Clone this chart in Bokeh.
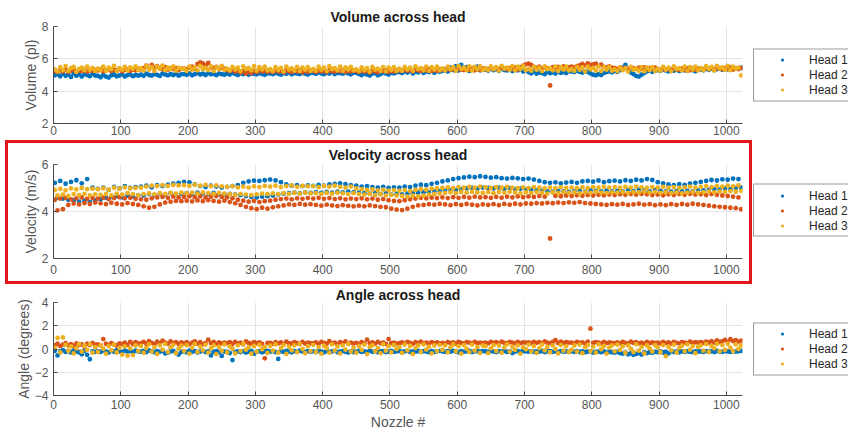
from bokeh.plotting import figure
from bokeh.models import Legend, LegendItem, Range1d, Div
from bokeh.layouts import row, column
from bokeh.embed import file_html
from bokeh.resources import INLINE

# ---------------- data ----------------
nozzles = list(range(2, 1024, 4))          # sampled nozzle numbers
x_ticks = [0, 100, 200, 300, 400, 500, 600, 700, 800, 900, 1000]
heads = ["Head 1", "Head 2", "Head 3"]
volume_ticks = [2, 4, 6, 8]
velocity_ticks = [2, 4, 6]
angle_ticks = [-4, -2, 0, 2, 4]

volume_head1 = [
    4.98, 5.05, 4.92, 5.08, 4.95, 5.02, 4.88, 5.10, 4.96, 5.04, 4.90, 5.06, 4.99, 4.93, 5.07, 4.97,
    4.94, 4.86, 5.01, 4.90, 4.84, 4.98, 5.03, 4.92, 4.97, 5.05, 4.91, 4.99, 5.04, 4.93, 5.00, 4.96,
    5.02, 4.95, 5.08, 5.00, 4.97, 5.06, 5.01, 4.94, 5.09, 5.03, 4.98, 5.05, 5.00, 5.07, 4.96, 5.04,
    5.06, 5.01, 5.10, 4.98, 5.05, 5.12, 5.03, 5.08, 5.00, 5.11, 5.04, 5.07, 4.99, 5.09, 5.05, 5.02,
    5.08, 5.03, 5.12, 5.06, 5.00, 5.10, 5.05, 5.13, 5.02, 5.09, 5.07, 5.04, 5.11, 5.06, 5.01, 5.10,
    5.10, 5.05, 5.13, 5.08, 5.02, 5.12, 5.07, 5.15, 5.04, 5.11, 5.09, 5.06, 5.14, 5.08, 5.03, 5.12,
    5.12, 5.07, 5.16, 5.10, 5.05, 5.14, 5.09, 5.18, 5.06, 5.13, 5.11, 5.08, 5.16, 5.10, 5.04, 5.14,
    5.13, 5.06, 4.99, 5.10, 5.02, 4.97, 5.08, 5.12, 4.98, 5.05, 5.15, 5.09, 5.03, 5.14, 5.10, 5.17,
    5.18, 5.12, 5.22, 5.15, 5.25, 5.10, 5.20, 5.16, 5.27, 5.13, 5.22, 5.18, 5.28, 5.14, 5.24, 5.20,
    5.26, 5.35, 5.22, 5.45, 5.30, 5.55, 5.28, 5.62, 5.34, 5.48, 5.25, 5.40, 5.32, 5.52, 5.29, 5.38,
    5.33, 5.27, 5.42, 5.30, 5.36, 5.25, 5.40, 5.31, 5.28, 5.38, 5.24, 5.34, 5.29, 5.37, 5.22, 5.30,
    5.18, 5.10, 5.22, 5.08, 5.15, 5.12, 5.05, 5.20, 5.11, 5.17, 5.09, 5.21, 5.14, 5.19, 5.12, 5.23,
    5.22, 5.18, 5.26, 5.20, 5.15, 5.24, 5.19, 5.10, 5.02, 4.98, 5.05, 5.00, 5.12, 5.18, 5.23, 5.17,
    5.25, 5.20, 5.30, 5.45, 5.62, 5.28, 5.15, 5.05, 4.94, 4.90, 5.02, 5.12, 5.22, 5.28, 5.20, 5.26,
    5.30, 5.25, 5.34, 5.28, 5.22, 5.32, 5.27, 5.36, 5.24, 5.31, 5.29, 5.26, 5.35, 5.30, 5.23, 5.33,
    5.34, 5.29, 5.38, 5.32, 5.40, 5.30, 5.36, 5.42, 5.33, 5.39, 5.35, 5.44, 5.37, 5.41, 5.38, 5.45,
]
volume_head2 = [
    5.25, 5.18, 5.30, 5.22, 5.33, 5.20, 5.27, 5.35, 5.19, 5.28, 5.24, 5.32, 5.21, 5.29, 5.26, 5.31,
    5.28, 5.34, 5.22, 5.30, 5.36, 5.25, 5.32, 5.27, 5.38, 5.23, 5.31, 5.35, 5.26, 5.33, 5.29, 5.37,
    5.35, 5.42, 5.58, 5.38, 5.62, 5.45, 5.55, 5.40, 5.36, 5.48, 5.33, 5.41, 5.37, 5.44, 5.30, 5.39,
    5.40, 5.36, 5.45, 5.52, 5.38, 5.68, 5.78, 5.72, 5.60, 5.75, 5.48, 5.42, 5.50, 5.37, 5.44, 5.39,
    5.30, 5.25, 5.34, 5.21, 5.28, 5.15, 5.24, 5.10, 5.19, 5.12, 5.26, 5.18, 5.31, 5.22, 5.27, 5.20,
    5.24, 5.18, 5.28, 5.21, 5.26, 5.16, 5.30, 5.23, 5.19, 5.27, 5.22, 5.29, 5.17, 5.25, 5.20, 5.28,
    5.25, 5.20, 5.29, 5.22, 5.27, 5.18, 5.31, 5.24, 5.21, 5.28, 5.23, 5.30, 5.19, 5.26, 5.22, 5.29,
    5.24, 5.19, 5.28, 5.21, 5.26, 5.15, 5.30, 5.22, 5.18, 5.27, 5.23, 5.29, 5.20, 5.25, 5.21, 5.28,
    5.30, 5.25, 5.34, 5.27, 5.32, 5.22, 5.36, 5.29, 5.26, 5.33, 5.28, 5.35, 5.24, 5.31, 5.27, 5.34,
    5.35, 5.30, 5.39, 5.32, 5.37, 5.28, 5.41, 5.34, 5.31, 5.38, 5.33, 5.40, 5.29, 5.36, 5.32, 5.39,
    5.40, 5.35, 5.44, 5.37, 5.42, 5.33, 5.46, 5.39, 5.36, 5.43, 5.38, 5.45, 5.34, 5.48, 5.58, 5.66,
    5.70, 5.62, 5.50, 5.44, 5.52, 5.40, 5.47, 5.42, 4.35, 5.48, 5.41, 5.50, 5.45, 5.53, 5.43, 5.49,
    5.52, 5.46, 5.55, 5.60, 5.68, 5.58, 5.72, 5.62, 5.66, 5.70, 5.55, 5.64, 5.50, 5.47, 5.53, 5.45,
    5.42, 5.37, 5.46, 5.39, 5.44, 5.35, 5.48, 5.41, 5.38, 5.45, 5.40, 5.47, 5.36, 5.43, 5.39, 5.46,
    5.36, 5.31, 5.40, 5.33, 5.38, 5.29, 5.42, 5.35, 5.32, 5.39, 5.34, 5.41, 5.30, 5.37, 5.33, 5.40,
    5.40, 5.35, 5.44, 5.37, 5.42, 5.33, 5.46, 5.39, 5.36, 5.43, 5.38, 5.45, 5.34, 5.41, 5.37, 5.44,
]
volume_head3 = [
    5.35, 5.22, 5.48, 5.30, 5.55, 5.26, 5.42, 5.50, 5.20, 5.38, 5.46, 5.28, 5.52, 5.33, 5.44, 5.25,
    5.40, 5.30, 5.52, 5.27, 5.45, 5.36, 5.56, 5.24, 5.43, 5.32, 5.50, 5.29, 5.47, 5.38, 5.53, 5.31,
    5.42, 5.28, 5.55, 5.34, 5.48, 5.25, 5.51, 5.39, 5.58, 5.30, 5.46, 5.36, 5.54, 5.27, 5.44, 5.40,
    5.38, 5.26, 5.52, 5.33, 5.47, 5.29, 5.56, 5.36, 5.44, 5.31, 5.53, 5.25, 5.49, 5.37, 5.57, 5.32,
    5.40, 5.28, 5.50, 5.34, 5.46, 5.24, 5.53, 5.37, 5.43, 5.30, 5.55, 5.27, 5.48, 5.35, 5.51, 5.29,
    5.36, 5.25, 5.48, 5.31, 5.44, 5.22, 5.52, 5.34, 5.41, 5.27, 5.50, 5.24, 5.46, 5.32, 5.49, 5.26,
    5.38, 5.27, 5.51, 5.33, 5.45, 5.24, 5.54, 5.36, 5.42, 5.29, 5.52, 5.26, 5.47, 5.34, 5.50, 5.28,
    5.35, 5.24, 5.47, 5.30, 5.43, 5.21, 5.50, 5.33, 5.40, 5.26, 5.49, 5.23, 5.45, 5.31, 5.48, 5.25,
    5.39, 5.27, 5.50, 5.34, 5.46, 5.25, 5.53, 5.37, 5.43, 5.29, 5.52, 5.26, 5.49, 5.34, 5.51, 5.28,
    5.41, 5.29, 5.52, 5.35, 5.48, 5.27, 5.55, 5.38, 5.45, 5.31, 5.54, 5.28, 5.50, 5.36, 5.53, 5.30,
    5.42, 5.30, 5.53, 5.36, 5.49, 5.27, 5.56, 5.39, 5.46, 5.32, 5.55, 5.29, 5.51, 5.37, 5.54, 5.31,
    5.38, 5.27, 5.50, 5.33, 5.46, 5.24, 5.53, 5.36, 5.43, 5.29, 5.52, 5.26, 5.48, 5.34, 5.51, 5.28,
    5.37, 5.26, 5.50, 5.32, 5.47, 5.23, 5.52, 5.35, 5.44, 5.28, 5.53, 5.25, 5.49, 5.33, 5.50, 5.27,
    5.35, 5.24, 5.47, 5.30, 5.43, 5.21, 5.50, 5.33, 5.40, 5.26, 5.49, 5.23, 5.45, 5.31, 5.48, 5.25,
    5.38, 5.27, 5.50, 5.33, 5.46, 5.24, 5.53, 5.36, 5.43, 5.29, 5.52, 5.26, 5.48, 5.34, 5.51, 5.28,
    5.42, 5.31, 5.54, 5.37, 5.50, 5.28, 5.57, 5.40, 5.47, 5.33, 5.56, 5.30, 5.52, 5.38, 5.45, 4.98,
]

velocity_head1 = [
    5.22, 4.60, 5.30, 4.55, 5.18, 4.50, 5.26, 4.48, 5.33, 4.42, 5.20, 4.45, 5.38, 4.40, 5.02, 4.47,
    4.96, 4.52, 5.02, 4.58, 4.92, 4.62, 5.05, 4.66, 4.98, 4.60, 5.08, 4.68, 5.00, 4.64, 5.04, 4.70,
    5.06, 4.68, 5.10, 4.74, 5.03, 4.70, 5.12, 4.76, 5.08, 4.72, 5.14, 4.78, 5.18, 4.74, 5.22, 4.76,
    5.26, 4.78, 5.24, 4.75, 5.15, 4.80, 5.08, 4.77, 5.04, 4.74, 5.10, 4.79, 5.06, 4.76, 5.02, 4.73,
    5.05, 4.75, 5.08, 4.72, 5.12, 4.70, 5.22, 4.66, 5.28, 4.62, 5.31, 4.60, 5.30, 4.63, 5.33, 4.65,
    5.36, 4.68, 5.32, 4.72, 5.25, 4.76, 5.15, 4.78, 5.10, 4.80, 5.12, 4.77, 5.08, 4.81, 5.11, 4.79,
    5.09, 4.82, 5.13, 4.79, 5.10, 4.83, 5.15, 4.80, 5.18, 4.84, 5.20, 4.81, 5.16, 4.85, 5.12, 4.82,
    5.10, 4.80, 5.06, 4.78, 5.08, 4.76, 5.04, 4.79, 5.02, 4.74, 5.05, 4.77, 5.00, 4.72, 5.03, 4.75,
    5.02, 4.73, 5.06, 4.76, 5.04, 4.78, 5.10, 4.80, 5.14, 4.82, 5.12, 4.81, 5.18, 4.84, 5.22, 4.86,
    5.28, 4.88, 5.32, 4.90, 5.38, 4.92, 5.42, 4.95, 5.45, 4.98, 5.48, 5.00, 5.46, 4.97, 5.50, 5.02,
    5.47, 5.00, 5.44, 4.98, 5.46, 5.02, 5.42, 4.96, 5.40, 4.99, 5.43, 4.95, 5.41, 4.97, 5.38, 4.93,
    5.40, 4.92, 5.36, 4.90, 5.30, 4.88, 5.25, 4.86, 5.22, 4.84, 5.24, 4.87, 5.20, 4.85, 5.23, 4.83,
    5.26, 4.86, 5.22, 4.88, 5.28, 4.84, 5.30, 4.90, 5.27, 4.87, 5.32, 4.85, 5.25, 4.89, 5.29, 4.86,
    5.31, 4.88, 5.28, 4.85, 5.33, 4.90, 5.30, 4.87, 5.35, 4.92, 5.32, 4.89, 5.38, 4.86, 5.34, 4.91,
    5.25, 4.88, 5.20, 4.86, 5.15, 4.84, 5.12, 4.87, 5.16, 4.85, 5.13, 4.88, 5.18, 4.86, 5.22, 4.89,
    5.26, 4.90, 5.30, 4.92, 5.34, 4.95, 5.32, 4.93, 5.37, 4.97, 5.35, 4.95, 5.40, 5.00, 5.38, 5.02,
]
velocity_head2 = [
    4.50, 4.05, 4.55, 4.10, 4.58, 4.28, 4.52, 4.34, 4.56, 4.30, 4.60, 4.36, 4.54, 4.32, 4.57, 4.38,
    4.55, 4.35, 4.59, 4.31, 4.53, 4.37, 4.57, 4.33, 4.61, 4.30, 4.56, 4.36, 4.58, 4.32, 4.54, 4.28,
    4.52, 4.22, 4.50, 4.16, 4.56, 4.20, 4.60, 4.30, 4.62, 4.38, 4.58, 4.42, 4.63, 4.45, 4.60, 4.44,
    4.62, 4.46, 4.65, 4.43, 4.61, 4.47, 4.64, 4.44, 4.60, 4.48, 4.63, 4.45, 4.66, 4.42, 4.62, 4.46,
    4.60, 4.40, 4.56, 4.35, 4.50, 4.28, 4.46, 4.20, 4.42, 4.14, 4.45, 4.10, 4.40, 4.16, 4.44, 4.12,
    4.46, 4.18, 4.50, 4.22, 4.53, 4.26, 4.55, 4.30, 4.52, 4.28, 4.56, 4.32, 4.54, 4.29, 4.57, 4.31,
    4.55, 4.28, 4.58, 4.25, 4.54, 4.29, 4.57, 4.26, 4.53, 4.23, 4.56, 4.27, 4.52, 4.24, 4.55, 4.22,
    4.53, 4.25, 4.56, 4.22, 4.52, 4.26, 4.55, 4.23, 4.50, 4.20, 4.53, 4.18, 4.48, 4.12, 4.45, 4.08,
    4.44, 4.06, 4.48, 4.12, 4.52, 4.20, 4.55, 4.26, 4.58, 4.28, 4.56, 4.31, 4.59, 4.29, 4.57, 4.32,
    4.60, 4.30, 4.57, 4.27, 4.61, 4.31, 4.58, 4.28, 4.62, 4.32, 4.59, 4.29, 4.63, 4.26, 4.60, 4.30,
    4.61, 4.28, 4.58, 4.31, 4.62, 4.27, 4.59, 4.32, 4.63, 4.29, 4.60, 4.33, 4.64, 4.30, 4.61, 4.34,
    4.64, 4.33, 4.62, 4.36, 4.66, 4.34, 4.63, 4.37, 2.85, 4.35, 4.67, 4.38, 4.65, 4.36, 4.68, 4.39,
    4.66, 4.37, 4.69, 4.40, 4.67, 4.36, 4.70, 4.34, 4.68, 4.32, 4.71, 4.30, 4.69, 4.28, 4.72, 4.31,
    4.70, 4.29, 4.73, 4.32, 4.71, 4.28, 4.74, 4.30, 4.72, 4.33, 4.75, 4.29, 4.73, 4.31, 4.70, 4.27,
    4.72, 4.30, 4.69, 4.27, 4.73, 4.31, 4.70, 4.28, 4.74, 4.32, 4.71, 4.29, 4.75, 4.33, 4.72, 4.30,
    4.73, 4.28, 4.70, 4.25, 4.74, 4.22, 4.71, 4.20, 4.68, 4.18, 4.66, 4.16, 4.63, 4.14, 4.60, 4.10,
]
velocity_head3 = [
    4.92, 4.68, 4.96, 4.72, 4.90, 4.66, 4.98, 4.74, 4.94, 4.70, 5.00, 4.75, 4.95, 4.69, 4.97, 4.73,
    4.95, 4.71, 4.99, 4.75, 4.93, 4.69, 5.01, 4.76, 4.97, 4.72, 5.03, 4.78, 4.98, 4.74, 5.00, 4.70,
    5.02, 4.74, 5.06, 4.77, 5.10, 4.73, 5.08, 4.78, 5.12, 4.75, 5.09, 4.79, 5.13, 4.76, 5.11, 4.80,
    5.12, 4.77, 5.09, 4.80, 5.14, 4.76, 5.10, 4.81, 5.13, 4.78, 5.08, 4.75, 5.11, 4.79, 5.07, 4.76,
    5.05, 4.74, 5.08, 4.71, 5.03, 4.75, 5.06, 4.72, 5.02, 4.70, 5.07, 4.73, 5.04, 4.76, 5.09, 4.74,
    5.06, 4.77, 5.10, 4.74, 5.04, 4.78, 5.08, 4.75, 5.11, 4.79, 5.05, 4.76, 5.09, 4.80, 5.07, 4.77,
    5.08, 4.78, 5.04, 4.75, 5.09, 4.79, 5.06, 4.76, 5.10, 4.80, 5.05, 4.77, 5.02, 4.74, 5.06, 4.78,
    4.98, 4.74, 4.95, 4.72, 4.92, 4.75, 4.94, 4.70, 4.90, 4.73, 4.93, 4.69, 4.89, 4.71, 4.91, 4.68,
    4.88, 4.66, 4.91, 4.63, 4.87, 4.67, 4.92, 4.64, 4.95, 4.68, 4.93, 4.72, 4.97, 4.75, 4.99, 4.77,
    5.00, 4.79, 5.03, 4.82, 4.99, 4.78, 5.04, 4.83, 5.01, 4.80, 5.05, 4.84, 5.02, 4.81, 5.06, 4.79,
    5.03, 4.82, 5.00, 4.78, 5.04, 4.83, 5.01, 4.80, 5.05, 4.84, 5.02, 4.81, 4.99, 4.77, 5.03, 4.82,
    5.00, 4.79, 5.04, 4.83, 5.01, 4.80, 4.98, 4.76, 5.02, 4.81, 4.99, 4.78, 5.03, 4.82, 5.00, 4.79,
    5.02, 4.81, 4.99, 4.77, 5.03, 4.82, 5.00, 4.79, 5.04, 4.83, 5.01, 4.80, 5.05, 4.78, 5.02, 4.81,
    5.04, 4.80, 5.01, 4.83, 5.05, 4.79, 5.02, 4.82, 5.06, 4.81, 5.03, 4.84, 5.00, 4.80, 5.04, 4.83,
    5.02, 4.79, 5.05, 4.82, 5.01, 4.78, 5.04, 4.81, 5.00, 4.77, 5.03, 4.80, 5.06, 4.83, 5.02, 4.79,
    5.05, 4.82, 5.08, 4.85, 5.04, 4.81, 5.09, 4.86, 5.06, 4.83, 5.10, 4.87, 5.07, 4.84, 5.11, 4.88,
]

angle_head1 = [
    -0.15, -0.55, -0.20, -0.10, -0.25, -0.18, -0.30, -0.12, -0.22, -0.28, -0.45, -0.15, -0.50, -0.88, -0.20, -0.25,
    -0.18, -0.25, -0.12, -0.22, -0.30, -0.16, -0.24, -0.10, -0.20, -0.28, -0.14, -0.23, -0.19, -0.27, -0.15, -0.21,
    -0.22, -0.16, -0.26, -0.12, -0.20, -0.28, -0.18, -0.24, -0.14, -0.38, -0.30, -0.21, -0.17, -0.35, -0.48, -0.25,
    -0.20, -0.28, -0.15, -0.24, -0.18, -0.30, -0.22, -0.16, -0.26, -0.20, -0.55, -0.25, -0.18, -0.27, -0.60, -0.22,
    -0.24, -0.35, -0.95, -0.28, -0.20, -0.26, -0.18, -0.30, -0.22, -0.16, -0.40, -0.25, -0.19, -0.28, -0.21, -0.17,
    -0.23, -0.18, -0.27, -0.85, -0.20, -0.25, -0.16, -0.22, -0.28, -0.19, -0.24, -0.15, -0.21, -0.26, -0.18, -0.23,
    -0.20, -0.26, -0.17, -0.23, -0.29, -0.18, -0.25, -0.21, -0.16, -0.27, -0.22, -0.19, -0.24, -0.30, -0.20, -0.26,
    -0.22, -0.17, -0.25, -0.20, -0.28, -0.16, -0.24, -0.19, -0.27, -0.21, -0.18, -0.26, -0.23, -0.17, -0.25, -0.20,
    -0.18, -0.24, -0.21, -0.16, -0.26, -0.20, -0.23, -0.17, -0.25, -0.19, -0.22, -0.27, -0.18, -0.24, -0.20, -0.16,
    -0.21, -0.25, -0.18, -0.23, -0.16, -0.22, -0.27, -0.19, -0.24, -0.20, -0.17, -0.26, -0.21, -0.18, -0.23, -0.19,
    -0.20, -0.24, -0.17, -0.22, -0.26, -0.19, -0.23, -0.18, -0.25, -0.21, -0.35, -0.22, -0.19, -0.24, -0.18, -0.21,
    -0.22, -0.18, -0.25, -0.20, -0.23, -0.17, -0.26, -0.21, -0.19, -0.24, -0.20, -0.27, -0.18, -0.23, -0.21, -0.25,
    -0.20, -0.24, -0.18, -0.26, -0.21, -0.28, -0.23, -0.19, -0.30, -0.25, -0.22, -0.27, -0.20, -0.32, -0.24, -0.28,
    -0.30, -0.26, -0.35, -0.40, -0.32, -0.45, -0.38, -0.50, -0.42, -0.35, -0.48, -0.30, -0.36, -0.28, -0.33, -0.25,
    -0.27, -0.22, -0.30, -0.24, -0.38, -0.20, -0.26, -0.23, -0.28, -0.21, -0.25, -0.19, -0.24, -0.27, -0.20, -0.23,
    -0.21, -0.25, -0.18, -0.23, -0.20, -0.26, -0.17, -0.22, -0.24, -0.19, -0.21, -0.25, -0.18, -0.22, -0.20, -0.16,
]
angle_head2 = [
    0.30, 0.45, 0.25, 0.38, 0.50, 0.32, 0.42, 0.28, 0.48, 0.35, 0.40, 0.22, 0.46, 0.34, 0.52, 0.37,
    0.40, 0.32, 0.85, 0.45, 0.35, 0.50, 0.38, 0.30, 0.48, 0.42, 0.55, 0.36, 0.62, 0.43, 0.58, 0.46,
    0.50, 0.62, 0.45, 0.68, 0.52, 0.40, 0.64, 0.48, 0.72, 0.55, 0.46, 0.66, 0.50, 0.60, 0.43, 0.57,
    0.48, 0.60, 0.42, 0.55, 0.65, 0.46, 0.58, 0.40, 0.52, 0.80, 0.50, 0.62, 0.45, 0.56, 0.48, 0.54,
    0.50, 0.58, 0.43, 0.62, 0.48, 0.55, 0.40, 0.65, 0.52, 0.46, 0.60, 0.50, 0.56, 0.45, -0.80, 0.53,
    0.52, 0.45, 0.60, 0.48, 0.56, 0.42, 0.63, 0.50, 0.46, 0.58, 0.51, 0.43, 0.61, 0.47, 0.55, 0.50,
    0.48, 0.57, 0.43, 0.61, 0.52, 0.46, 0.67, 0.50, 0.55, 0.42, 0.59, 0.51, 0.65, 0.45, 0.54, 0.47,
    0.52, 0.44, 0.59, 0.48, 0.80, 0.51, 0.56, 0.46, 0.61, 0.49, 0.54, 0.43, 0.85, 0.50, 0.55, 0.47,
    0.50, 0.56, 0.47, 0.61, 0.53, 0.45, 0.58, 0.51, 0.64, 0.48, 0.55, 0.46, 0.60, 0.50, 0.57, 0.49,
    0.53, 0.47, 0.60, 0.51, 0.56, 0.45, 0.62, 0.52, 0.49, 0.58, 0.54, 0.48, 0.61, 0.50, 0.55, 0.51,
    0.55, 0.49, 0.61, 0.52, 0.58, 0.47, 0.63, 0.53, 0.50, 0.60, 0.55, 0.49, 0.62, 0.51, 0.57, 0.54,
    0.56, 0.50, 0.62, 0.53, 0.59, 0.48, 0.66, 0.54, 0.51, 0.61, 0.76, 0.50, 0.63, 0.52, 0.58, 0.55,
    0.54, 0.49, 0.61, 0.52, 0.57, 0.47, 0.64, 1.75, 0.53, 0.59, 0.54, 0.48, 0.62, 0.51, 0.56, 0.53,
    0.51, 0.57, 0.48, 0.60, 0.53, 0.46, 0.64, 0.52, 0.58, 0.49, 0.55, 0.47, 0.61, 0.50, 0.56, 0.52,
    0.54, 0.48, 0.60, 0.51, 0.57, 0.46, 0.62, 0.52, 0.49, 0.59, 0.54, 0.50, 0.64, 0.53, 0.58, 0.55,
    0.58, 0.52, 0.64, 0.56, 0.68, 0.54, 0.74, 0.60, 0.66, 0.78, 0.62, 0.84, 0.68, 0.76, 0.64, 0.72,
]
angle_head3 = [
    0.12, 0.95, -0.30, 1.00, 0.35, -0.15, 0.22, -0.38, 0.06, 0.42, -0.22, 0.28, -0.08, 0.40, -0.32, 0.16,
    -0.26, 0.32, 0.02, -0.40, 0.26, -0.12, 0.38, -0.30, 0.10, -0.48, 0.22, -0.58, 0.05, -0.52, 0.30, -0.18,
    0.26, -0.32, 0.08, 0.40, -0.22, 0.16, -0.42, 0.32, -0.06, 0.44, -0.26, 0.14, 0.36, -0.36, 0.02, 0.28,
    -0.18, 0.34, -0.40, 0.10, 0.42, -0.26, 0.20, -0.12, 0.38, -0.32, 0.06, 0.30, -0.44, 0.18, -0.14, 0.40,
    -0.30, 0.22, 0.02, -0.38, 0.32, -0.18, 0.44, -0.06, 0.14, -0.40, 0.26, -0.22, 0.36, -0.02, 0.18, -0.34,
    0.28, -0.14, 0.40, -0.32, 0.08, 0.34, -0.42, 0.20, -0.12, 0.32, -0.26, 0.42, 0.00, -0.36, 0.24, -0.18,
    0.36, -0.26, 0.14, -0.40, 0.28, 0.06, -0.32, 0.40, -0.14, 0.22, -0.38, 0.32, -0.06, 0.44, -0.22, 0.12,
    -0.32, 0.26, -0.08, 0.38, -0.44, 0.18, 0.32, -0.20, 0.08, -0.36, 0.40, -0.14, 0.24, -0.28, 0.34, 0.00,
    0.18, -0.34, 0.38, -0.12, 0.26, -0.42, 0.08, 0.32, -0.24, 0.40, -0.06, 0.20, -0.38, 0.30, -0.18, 0.36,
    -0.08, 0.32, -0.28, 0.14, 0.40, -0.20, 0.24, -0.40, 0.34, 0.02, -0.26, 0.38, -0.14, 0.18, -0.34, 0.30,
    0.24, -0.36, 0.06, 0.34, -0.18, 0.30, -0.32, 0.12, 0.40, -0.22, 0.20, -0.08, 0.32, -0.40, 0.14, -0.02,
    0.38, -0.20, 0.26, -0.34, 0.08, 0.40, -0.12, 0.18, -0.28, 0.32, 0.00, -0.38, 0.34, -0.14, 0.24, -0.26,
    -0.06, 0.30, -0.22, 0.38, -0.36, 0.14, 0.34, -0.18, 0.20, -0.32, 0.40, -0.02, 0.26, -0.40, 0.12, 0.32,
    -0.20, 0.38, -0.08, 0.24, -0.34, 0.32, 0.02, -0.26, 0.40, -0.14, 0.18, -0.38, 0.30, 0.06, -0.22, 0.34,
    0.14, -0.28, 0.34, -0.62, 0.20, -0.12, 0.38, -0.30, 0.08, 0.28, -0.20, 0.40, -0.06, 0.24, -0.36, 0.18,
    0.32, -0.14, 0.42, -0.26, 0.24, 0.06, 0.44, -0.20, 0.34, -0.08, 0.46, 0.12, -0.18, 0.40, 0.00, 0.30,
]

# ---------------- style ----------------
COLORS = ["#0072BD", "#D95319", "#EDB120"]
FONT = "Liberation Sans"
AXIS_COLOR = "#4a4a4a"
LABEL_COLOR = "#555555"
GRID_COLOR = "#e3e3e3"
RED = "#e3161b"
W_LEG = 96
MARK = 4.8


def make_panel(title, ylabel, series, yrange, yticks, width, height, left, right, top, bottom,
               xlabel=None, xstand=4, tstand=2, tline=1.0):
    p = figure(width=width, height=height, output_backend="svg", toolbar_location=None,
               x_range=Range1d(0, 1024), y_range=Range1d(*yrange),
               min_border_left=left, min_border_right=right,
               min_border_top=top, min_border_bottom=bottom)
    p.title.text = title
    p.title.align = "center"
    p.title.text_font = FONT
    p.title.text_font_size = "14px"
    p.title.text_font_style = "bold"
    p.title.text_color = "#1a1a1a"
    p.title.text_line_height = tline
    p.title.standoff = tstand
    p.outline_line_color = None
    p.background_fill_color = "white"
    p.border_fill_color = "white"

    for ys, c in zip(series, COLORS):
        p.scatter(nozzles[:len(ys)], ys, size=MARK, fill_color=c, line_color=None)

    p.xaxis.ticker = x_ticks
    p.yaxis.ticker = yticks
    for ax in (p.xaxis[0], p.yaxis[0]):
        ax.axis_line_color = AXIS_COLOR
        ax.axis_line_width = 1
        ax.major_tick_line_color = AXIS_COLOR
        ax.major_tick_in = 4
        ax.major_tick_out = 0
        ax.minor_tick_line_color = None
        ax.major_label_text_font = FONT
        ax.major_label_text_font_size = "12px"
        ax.major_label_text_color = LABEL_COLOR
        ax.axis_label_text_font = FONT
        ax.axis_label_text_font_size = "14px"
        ax.axis_label_text_font_style = "normal"
        ax.axis_label_text_color = LABEL_COLOR
    p.yaxis.major_label_standoff = 5
    p.xaxis.major_label_standoff = xstand
    p.yaxis.axis_label = ylabel
    p.yaxis.axis_label_standoff = 0
    if xlabel:
        p.xaxis.axis_label = xlabel
        p.xaxis.axis_label_standoff = 2
    p.xgrid.grid_line_color = GRID_COLOR
    p.ygrid.grid_line_color = GRID_COLOR
    return p


def make_legend(height, top, bottom):
    lf = figure(width=W_LEG, height=height, output_backend="svg", toolbar_location=None,
                title=None, x_range=Range1d(0, 1), y_range=Range1d(0, 1),
                x_axis_type=None, y_axis_type=None,
                min_border_left=1, min_border_right=0,
                min_border_top=top, min_border_bottom=bottom)
    lf.grid.visible = False
    lf.outline_line_color = None
    items = []
    for name, c in zip(heads, COLORS):
        # legend-only glyph, kept outside the visible range
        r = lf.scatter(x=[-1], y=[-1], size=MARK, fill_color=c, line_color=None)
        items.append(LegendItem(label=name, renderers=[r]))
    leg = Legend(items=items, location="left",
                 orientation="vertical", padding=3, spacing=0, margin=0,
                 glyph_width=50, glyph_height=8, label_height=15, label_standoff=2,
                 label_text_font=FONT, label_text_font_size="12px", label_text_color="#262626",
                 border_line_color="#3a3a3a", border_line_width=1,
                 background_fill_color="white", background_fill_alpha=1.0)
    lf.add_layout(leg, "center")
    return lf


def bar(w, h, color=RED):
    return Div(text="", width=w, height=h, margin=0,
               styles={"background-color": color})


p1 = make_panel("Volume across head", "Volume (pl)",
                [volume_head1, volume_head2, volume_head3], (2, 8), volume_ticks,
                width=752, height=140, left=53, right=10, top=26, bottom=17, xstand=2, tstand=3)
# middle panel sits inside a red frame (x 5..752, y 140..284)
p2 = make_panel("Velocity across head", "Velocity (m/s)",
                [velocity_head1, velocity_head2, velocity_head3], (2, 6), velocity_ticks,
                width=741, height=138, left=45, right=7, top=19, bottom=23, xstand=6, tstand=3,
                tline=0.85)
p3 = make_panel("Angle across head", "Angle (degrees)",
                [angle_head1, angle_head2, angle_head3], (-4, 4), angle_ticks,
                width=752, height=151, left=53, right=10, top=14, bottom=40,
                xlabel="Nozzle #", xstand=4, tstand=0, tline=0.7)

framed = row(bar(5, 144, "white"),
             column(bar(747, 3),
                    row(bar(3, 138), p2, bar(3, 138)),
                    bar(747, 3)))

l1 = make_legend(140, 26, 17)
l2 = make_legend(144, 22, 26)
l3 = make_legend(151, 14, 40)

layout = column(row(p1, l1), row(framed, l2), row(p3, l3))

open("out.html", "w").write(file_html(layout, INLINE))
